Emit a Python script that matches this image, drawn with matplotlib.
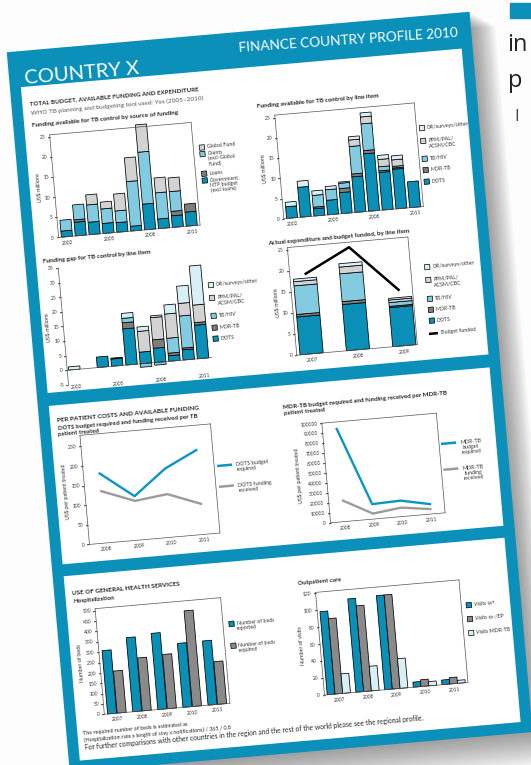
import numpy as np
import matplotlib
matplotlib.use("Agg")
import matplotlib.pyplot as plt
import matplotlib.patches as mpatches
from matplotlib.transforms import Affine2D
import mpl_toolkits.axisartist.floating_axes as floating_axes
from mpl_toolkits.axisartist.grid_finder import FixedLocator, DictFormatter

plt.rcParams['font.family'] = ['Lato', 'DejaVu Sans']

# ---------------- data ----------------
years_a = [2002, 2003, 2004, 2005, 2006, 2007, 2008, 2009, 2010, 2011]
year_ticks_a = [2002, 2005, 2008, 2011]

src_government = [1.5, 3.4, 3.1, 2.5, 2.4, 1.2, 6.4, 2.4, 2.9, 3.5]
src_loans = [0, 0.6, 0, 0, 0, 0, 0, 0, 1.1, 2.0]
src_grants = [2.7, 3.7, 4.3, 3.6, 2.9, 11.1, 12.9, 6.5, 4.9, 0]
src_global_fund = [0, 0, 2.5, 1.7, 4.2, 5.9, 6.8, 3.7, 3.4, 0]

avail_dots = [2.9, 7.4, 1.8, 3.6, 5.2, 8.8, 14.2, 9.3, 9.8, 6.4]
avail_mdr = [0, 0, 0.4, 0, 1.0, 0.7, 0.8, 0.4, 0.3, 0]
avail_tbhiv = [0, 0, 2.9, 2.6, 1.3, 6.8, 6.6, 1.0, 0.4, 0]
avail_ppm = [0, 0, 0, 0, 0, 1.6, 1.7, 1.8, 1.6, 0]
avail_or = [1.1, 1.5, 1.1, 0.8, 0.3, 0.8, 1.0, 1.0, 1.0, 0]

gap_dots = [0, 0, 3.6, 2.5, 12.4, 4.0, 4.9, 1.9, 3.5, 11.5]
gap_mdr = [0, 0, 0, 0.3, 2.1, 0, 2.9, 0.9, 0.6, 0.9]
gap_tbhiv = [0, 0, 0, 0, 1.5, -1.2, -0.9, 5.1, 11.0, 0]
gap_ppm = [0, 0, 0, 0, 0, 7.1, 7.6, 8.3, 4.3, 6.0]
gap_or = [1.1, 0, 0, 0, 1.7, 1.5, 0.6, 3.1, 5.9, 13.4]

exp_years = [2007, 2008, 2009]
exp_dots = [9.0, 11.0, 9.3]
exp_mdr = [0.6, 0.7, 0.3]
exp_tbhiv = [6.8, 6.6, 0.9]
exp_ppm = [1.0, 1.6, 0.6]
exp_or = [0.6, 0.8, 0.4]
budget_funded = [18.9, 24.4, 13.1]

pp_years = [2008, 2009, 2010, 2011]
dots_budget_pp = [177, 112, 175, 215]
dots_funding_pp = [132, 100, 110, 78]
mdr_budget_pp = [93000, 15000, 16000, 10000]
mdr_funding_pp = [21000, 5500, 9000, 5000]

hs_years = [2007, 2008, 2009, 2010, 2011]
beds_reported = [306, 358, 368, 309, 310]
beds_required = [203, 256, 262, 462, 206]
visits_ssp = [98, 110, 111, 6, 5.5]
visits_ssn = [89, 101, 111, 8, 7.5]
visits_mdr = [23, 29, 35, 5, 3.5]

source_labels = ["Global Fund", "Grants\n(excl Global\nFund)", "Loans",
                 "Government,\nNTP budget\n(excl loans)"]
item_labels = ["OR/surveys/other", "PPM/PAL/\nACSM/CBC", "TB/HIV", "MDR-TB", "DOTS"]

# ---------------- style ----------------
W, H = 531, 765
CX, CY = 265, 382
ANG = 5.0
BLUE = '#0a90b9'
C_DOTS = '#0a8fb6'
C_MDR = '#7d7d7d'
C_TBHIV = '#82cbe0'
C_PPM = '#d3d3d3'
C_OR = '#d9eff6'
C_GREY = '#8a8a8a'
C_LINEGREY = '#9b9b9b'
TXT = '#262626'
FR = '#555555'

fig = plt.figure(figsize=(W / 100, H / 100), dpi=100)
fig.patch.set_facecolor('#fdfdfd')

bg = fig.add_axes([0, 0, 1, 1])
bg.set_xlim(0, W)
bg.set_ylim(0, H)
bg.axis('off')


def page_affine():
    return Affine2D().scale(1, -1).translate(0, H).rotate_deg_around(CX, H - CY, ANG)


PT = page_affine() + bg.transData

# background page (other document on the right)
bg.add_patch(mpatches.Rectangle((510, H - 18), 30, 15, color=BLUE, zorder=0))
bg.text(507, H - 51, "in", fontsize=17, color='#222222', zorder=0, family='Open Sans')
bg.text(508, H - 87, "p", fontsize=17, color='#222222', zorder=0, family='Open Sans')
bg.text(514, H - 121, "I", fontsize=12, color='#444444', zorder=0, family='Open Sans')

# shadow of the page
for i in range(16):
    d = 1.8 * i
    bg.add_patch(mpatches.Rectangle((36.5 + d * 0.9, 31 + d * 0.6), 464.5, 723 + d * 0.7,
                                    transform=PT, facecolor='black', alpha=0.028,
                                    lw=0, zorder=1))
# page frame and panels
bg.add_patch(mpatches.Rectangle((36.5, 31), 464.5, 723, transform=PT,
                                facecolor=BLUE, lw=0, zorder=2))
for (pv0, pv1) in [(67, 374), (387, 546), (558, 743)]:
    bg.add_patch(mpatches.Rectangle((47.5, pv0), 442.5, pv1 - pv0, transform=PT,
                                    facecolor='white', lw=0, zorder=3))


def ptext(u, v, s, size=4.2, weight='normal', color=TXT, rot=ANG, **kw):
    kw.setdefault('ha', 'left')
    kw.setdefault('va', 'baseline')
    return fig.text(u, v, s, transform=PT, fontsize=size, fontweight=weight, color=color,
                    rotation=rot, rotation_mode='anchor', zorder=5, **kw)


# header
ptext(52, 64, "COUNTRY X", size=14.5, color='white')
ptext(487, 55, "FINANCE COUNTRY PROFILE 2010", size=9.8, color='white', ha='right', rot=4.0)

# section titles
ptext(55, 85.5, "TOTAL BUDGET, AVAILABLE FUNDING AND EXPENDITURE", size=4.4, weight='bold')
ptext(55, 95.5, "WHO TB planning and budgeting tool used: Yes (2005\u20132010)", size=4.6,
      color='#555555')
ptext(55, 107.5, "Funding available for TB control by source of funding", size=4.5,
      weight='bold')
ptext(281, 108.3, "Funding available for TB control by line item", size=4.5, weight='bold')
ptext(54, 244, "Funding gap for TB control by line item", size=4.5, weight='bold')
ptext(280, 245.8, "Actual expenditure and budget funded, by line item", size=4.5,
      weight='bold')
ptext(54, 403.8, "PER PATIENT COSTS AND AVAILABLE FUNDING", size=4.6, weight='bold')
ptext(54.4, 411.3, "DOTS budget required and funding received per TB", size=4.4,
      weight='bold')
ptext(54.4, 417.3, "patient treated", size=4.4, weight='bold')
ptext(280.5, 410.8, "MDR-TB budget required and funding received per MDR-TB", size=4.4,
      weight='bold')
ptext(280.5, 416.8, "patient treated", size=4.4, weight='bold')
ptext(54, 577.4, "USE OF GENERAL HEALTH SERVICES", size=4.6, weight='bold')
ptext(54.4, 585.8, "Hospitalization", size=4.4, weight='bold')
ptext(280.2, 587.1, "Outpatient care", size=4.4, weight='bold')
ptext(53, 717.8, "The required number of beds is estimated as", size=3.9)
ptext(53, 724.8, "(Hospitalization rate x length of stay x notifications) / 365 / 0.8", size=3.9)
ptext(54, 732.5, "For further comparisons with other countries in the region and the rest of the "
      "world please see the regional profile.", size=4.9)


def chart(rect, xlim, ylim, xticks, xlabels, yticks, ylabels, ylabel, frame=True,
          bottom_line=True):
    u0, v0, u1, v1 = rect
    sx = (u1 - u0) / (xlim[1] - xlim[0])
    sy = (v1 - v0) / (ylim[1] - ylim[0])
    tr = (Affine2D().translate(-xlim[0], -ylim[0]).scale(sx, -sy).translate(u0, v1)
          .scale(1, -1).translate(0, H).rotate_deg_around(CX, H - CY, ANG))
    gh = floating_axes.GridHelperCurveLinear(
        tr, extremes=(xlim[0], xlim[1], ylim[0], ylim[1]),
        grid_locator1=FixedLocator(list(xticks)),
        tick_formatter1=DictFormatter(dict(zip(xticks, xlabels))),
        grid_locator2=FixedLocator(list(yticks)),
        tick_formatter2=DictFormatter(dict(zip(yticks, ylabels))))
    ax = fig.add_axes([0, 0, 1, 1], axes_class=floating_axes.FloatingAxes, grid_helper=gh)
    ax.set_xlim(0, W)
    ax.set_ylim(0, H)
    ax.patch.set_facecolor('white')
    for side in ["left", "right", "top", "bottom"]:
        a = ax.axis[side]
        a.line.set_color(FR)
        a.line.set_linewidth(0.5)
        a.major_ticks.set_color(FR)
        a.major_ticks.set_linewidth(0.5)
        a.major_ticks.set_ticksize(1.8)
        try:
            a.major_ticks.set_tick_out(True)
        except Exception:
            pass
        a.major_ticklabels.set_fontsize(3.6)
        a.major_ticklabels.set_color('#333333')
        a.major_ticklabels.set_pad(1.5)
    for side in ["right", "top"]:
        ax.axis[side].toggle(ticks=False, ticklabels=False, label=False)
        if not frame:
            ax.axis[side].set_visible(False)
    ax.axis["bottom"].major_ticks.set_ticksize(0)
    ax.axis["bottom"].major_ticklabels.set_pad(2.5)
    if not bottom_line:
        ax.axis["bottom"].line.set_visible(False)
    lab = ax.axis["left"].label
    lab.set_text(ylabel)
    lab.set_visible(True)
    lab.set_fontsize(3.9)
    lab.set_color('#333333')
    lab.set_pad(2)
    aux = ax.get_aux_axes(tr)
    return ax, aux


def stacked(aux, x, series, colors, width):
    x = np.asarray(x, float)
    pos = np.zeros(len(x))
    neg = np.zeros(len(x))
    for vals, c in zip(series, colors):
        vals = np.asarray(vals, float)
        m = vals != 0
        bottom = np.where(vals >= 0, pos, neg)
        aux.bar(x[m], vals[m], width, bottom=bottom[m], color=c, edgecolor='black',
                linewidth=0.55)
        pos = pos + np.clip(vals, 0, None)
        neg = neg + np.clip(vals, None, 0)


def legend_boxes(u, vs, labels, colors, size=3.8, sq=5.2):
    for v, lab, c in zip(vs, labels, colors):
        bg.add_patch(mpatches.Rectangle((u, v - sq / 2), sq, sq, transform=PT, facecolor=c,
                                        edgecolor='black', lw=0.5, zorder=5))
        ptext(u + sq + 2.3, v - 2.6, lab, size=size, va='top', linespacing=1.05,
              color='#333333')


def legend_lines(u, vs, labels, colors, size=3.9, length=15, lw=1.8, gap=4,
                 malign='left'):
    for v, lab, c in zip(vs, labels, colors):
        bg.plot([u, u + length], [v, v], transform=PT, color=c, lw=lw, zorder=5,
                solid_capstyle='butt')
        ptext(u + length + gap, v - 2.6, lab, size=size, va='top', linespacing=1.05,
              color='#333333', multialignment=malign)


item_colors = [C_OR, C_PPM, C_TBHIV, C_MDR, C_DOTS]
xa = np.arange(len(years_a))
xa_ticks = [years_a.index(y) for y in year_ticks_a]
xa_labels = [str(y) for y in year_ticks_a]
y25 = [0, 5, 10, 15, 20, 25]

# --- chart A: funding by source ---
axA, auxA = chart((72, 117, 214, 220), (-0.6, 9.6), (0, 25.5), xa_ticks, xa_labels,
                  y25, [str(v) for v in y25], "US$ millions")
stacked(auxA, xa, [src_government, src_loans, src_grants, src_global_fund],
        [C_DOTS, C_MDR, C_TBHIV, C_PPM], 0.8)
legend_boxes(220, [142.9, 149.5, 169.2, 176], source_labels,
             [C_PPM, C_TBHIV, C_MDR, C_DOTS])

# --- chart B: funding by line item ---
axB, auxB = chart((298, 117, 438, 221), (-0.6, 9.6), (0, 25.6), xa_ticks, xa_labels,
                  y25, [str(v) for v in y25], "US$ millions")
stacked(auxB, xa, [avail_dots, avail_mdr, avail_tbhiv, avail_ppm, avail_or],
        [C_DOTS, C_MDR, C_TBHIV, C_PPM, C_OR], 0.8)
legend_boxes(441, [142.7, 155.6, 173.5, 184.8, 196.5], item_labels, item_colors)

# --- chart C: funding gap ---
yC = [-5, 0, 5, 10, 15, 20, 25, 30, 35]
axC, auxC = chart((69, 250.5, 214, 367.7), (-0.5, 9.6), (-5, 35), xa_ticks, xa_labels,
                  yC, [str(v) for v in yC], "US$ millions", frame=False, bottom_line=False)
axC.axis["bottom"].major_ticklabels.set_pad(0.5)
xlimC = [-0.5, 9.6]
auxC.plot(xlimC, [0, 0], color=FR, lw=0.5)
stacked(auxC, xa, [gap_dots, gap_mdr, gap_tbhiv, gap_ppm, gap_or],
        [C_DOTS, C_MDR, C_TBHIV, C_PPM, C_OR], 0.8)
legend_boxes(217, [280.7, 293.6, 311.6, 323.5, 334.5], item_labels, item_colors)

# --- chart D: actual expenditure ---
xd = np.arange(len(exp_years))
axD, auxD = chart((299, 250, 420, 358), (-0.32, 2.28), (0, 25.6), list(xd),
                  [str(y) for y in exp_years], y25, [str(v) for v in y25], "US$ millions")
stacked(auxD, xd, [exp_dots, exp_mdr, exp_tbhiv, exp_ppm, exp_or],
        [C_DOTS, C_MDR, C_TBHIV, C_PPM, C_OR], 0.5)
auxD.plot(xd, budget_funded, color='black', lw=1.8, solid_capstyle='butt')
legend_boxes(434, [281.6, 294.6, 313.5, 324.5, 335.4], item_labels, item_colors)
legend_lines(432.5, [348.4], ["Budget funded"], ['black'], length=9, gap=3)

# --- chart E: DOTS per patient ---
xe = np.arange(len(pp_years))
yE = [0, 50, 100, 150, 200, 250]
axE, auxE = chart((76, 419, 207, 528.5), (-0.5, 3.5), (0, 278), list(xe),
                  [str(y) for y in pp_years], yE, [str(v) for v in yE],
                  "US$ per patient treated")
auxE.plot(xe, dots_budget_pp, color='#0a95c2', lw=1.7)
auxE.plot(xe, dots_funding_pp, color=C_LINEGREY, lw=1.7)
legend_lines(210, [461.5, 482.4], ["DOTS budget\nrequired", "DOTS funding\nreceived"],
             ['#0a95c2', C_LINEGREY])

# --- chart F: MDR-TB per patient ---
yF = list(range(0, 100001, 10000))
axF, auxF = chart((318, 428, 433, 528), (-0.5, 3.5), (0, 100000), list(xe),
                  [str(y) for y in pp_years], yF, [str(v) for v in yF],
                  "US$ per patient treated")
auxF.plot(xe, mdr_budget_pp, color='#0a95c2', lw=1.7)
auxF.plot(xe, mdr_funding_pp, color=C_LINEGREY, lw=1.7)
legend_lines(435, [459, 485], ["MDR-TB\nbudget\nrequired", "MDR-TB\nfunding\nreceived"],
             ['#0a95c2', C_LINEGREY], malign='center')

# --- chart G: hospitalization ---
xg = np.arange(len(hs_years))
yG = list(range(0, 501, 50))
axG, auxG = chart((76, 593, 202, 699), (-0.5, 4.5), (0, 510), list(xg),
                  [str(y) for y in hs_years], yG, [str(v) for v in yG], "Number of beds")
auxG.bar(xg - 0.19, beds_reported, 0.36, color=C_DOTS, edgecolor='black', linewidth=0.55)
auxG.bar(xg + 0.19, beds_required, 0.36, color=C_GREY, edgecolor='black', linewidth=0.55)
legend_boxes(208, [620, 642], ["Number of beds\nreported", "Number of beds\nrequired"],
             [C_DOTS, C_GREY])

# --- chart H: outpatient care ---
yH = [0, 20, 40, 60, 80, 100, 120]
axH, auxH = chart((297, 596, 441, 699), (-0.5, 4.5), (0, 121), list(xg),
                  [str(y) for y in hs_years], yH, [str(v) for v in yH], "Number of visits")
auxH.bar(xg - 0.27, visits_ssp, 0.27, color=C_DOTS, edgecolor='black', linewidth=0.55)
auxH.bar(xg, visits_ssn, 0.27, color=C_GREY, edgecolor='black', linewidth=0.55)
auxH.bar(xg + 0.27, visits_mdr, 0.27, color=C_OR, edgecolor='black', linewidth=0.55)
legend_boxes(446, [622, 636, 650], ["Visits ss+", "Visits ss-/EP", "Visits MDR-TB"],
             [C_DOTS, C_GREY, C_OR])

fig.savefig("out.png", dpi=100, facecolor=fig.get_facecolor())
